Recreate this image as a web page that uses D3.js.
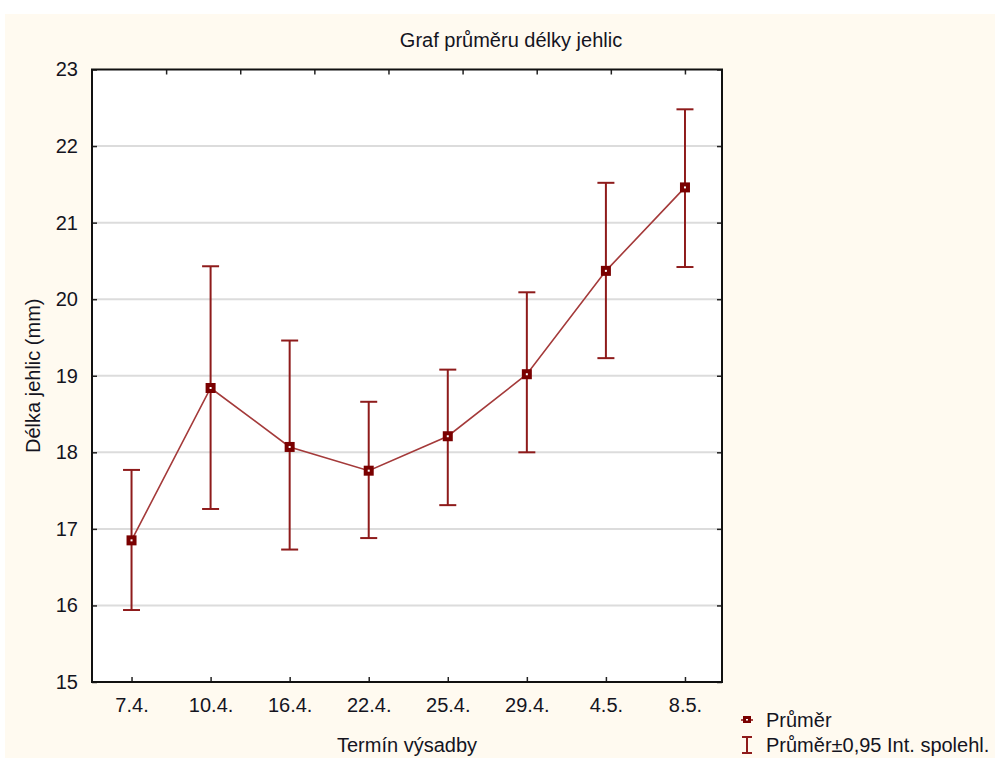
<!DOCTYPE html>
<html><head><meta charset="utf-8">
<script src="https://cdn.jsdelivr.net/npm/d3@7"></script>
<style>body{margin:0;background:#fff}svg{display:block}text{font-family:"Liberation Sans",Arial,sans-serif;fill:#14141e}</style>
</head><body><svg id="c" width="995" height="758"></svg>
<script>
const categories = ["7.4.","10.4.","16.4.","22.4.","25.4.","29.4.","4.5.","8.5."];
const means = [16.85, 18.84, 18.07, 17.76, 18.21, 19.02, 20.37, 21.46];
const lower = [15.94, 17.26, 16.73, 16.88, 17.31, 18.00, 19.23, 20.42];
const upper = [17.77, 20.43, 19.46, 18.66, 19.08, 20.09, 21.52, 22.48];
const yTicks = [15,16,17,18,19,20,21,22,23];
const title = "Graf průměru délky jehlic";
const xTitle = "Termín výsadby";
const yTitle = "Délka jehlic (mm)";
const legendLabels = ["Průměr", "Průměr±0,95 Int. spolehl."];

const svg = d3.select("#c");
const L = 92, R = 722, T = 69.5, B = 682;
const red = "#8e1b1b", markRed = "#7a0000";

svg.append("rect").attr("x",5).attr("y",14).attr("width",990).attr("height",744).attr("fill","#fffaf0");
svg.append("rect").attr("x",L).attr("y",T).attr("width",R-L).attr("height",B-T).attr("fill","#fff");

const x = d3.scalePoint().domain(categories).range([L,R+2.5]).padding(0.5);
const y = d3.scaleLinear().domain([15,23]).range([B,T]);

// gridlines
svg.append("g").selectAll("line").data(yTicks.filter(t=>t>15&&t<23)).join("line")
  .attr("x1",L).attr("x2",R).attr("y1",d=>y(d)).attr("y2",d=>y(d))
  .attr("stroke","#dcdcdc").attr("stroke-width",2);

// axes with inward ticks
const fmt = d=>d;
const gl = svg.append("g").attr("transform",`translate(${L},0)`)
  .call(d3.axisLeft(y).tickValues(yTicks).tickSize(-5).tickPadding(14).tickFormat(fmt));
const gr = svg.append("g").attr("transform",`translate(${R},0)`)
  .call(d3.axisRight(y).tickValues(yTicks).tickSize(-5).tickFormat(""));
const gb = svg.append("g").attr("transform",`translate(0,${B})`)
  .call(d3.axisBottom(x).tickSize(-5).tickPadding(16));
const xTop = d3.scaleLinear().domain([0,8.5]).range([L,R]);
const gt = svg.append("g").attr("transform",`translate(0,${T})`)
  .call(d3.axisTop(xTop).tickValues([1,2,3,4,5,6,7,8]).tickSize(-5).tickFormat(""));
[gl,gr,gb,gt].forEach(g=>{
  g.select(".domain").remove();
  g.selectAll("line").attr("stroke","#222").attr("stroke-width",1.5);
  g.selectAll("text").attr("font-size",20).attr("fill","#14141e").style("font-family","Liberation Sans, Arial, sans-serif");
});
gb.selectAll("text").attr("dy","0.71em");

svg.append("rect").attr("x",L).attr("y",T).attr("width",R-L).attr("height",B-T)
  .attr("fill","none").attr("stroke","#111").attr("stroke-width",2);

const data = categories.map((c,i)=>({c, m:means[i], lo:lower[i], hi:upper[i]}));

// error bars
const eb = svg.append("g").attr("stroke",red).attr("stroke-width",2);
eb.selectAll(".v").data(data).join("line").attr("x1",d=>x(d.c)).attr("x2",d=>x(d.c))
  .attr("y1",d=>y(d.lo)).attr("y2",d=>y(d.hi));
eb.selectAll(".t").data(data).join("line").attr("x1",d=>x(d.c)-8.5).attr("x2",d=>x(d.c)+8.5)
  .attr("y1",d=>y(d.hi)).attr("y2",d=>y(d.hi));
eb.selectAll(".b").data(data).join("line").attr("x1",d=>x(d.c)-8.5).attr("x2",d=>x(d.c)+8.5)
  .attr("y1",d=>y(d.lo)).attr("y2",d=>y(d.lo));

// mean line
svg.append("path").datum(data).attr("fill","none").attr("stroke","#a43a3a").attr("stroke-width",1.6)
  .attr("d",d3.line().x(d=>x(d.c)).y(d=>y(d.m)));

// markers
const mk = svg.append("g");
mk.selectAll("rect").data(data).join("rect").attr("x",d=>x(d.c)-5).attr("y",d=>y(d.m)-5)
  .attr("width",10).attr("height",10).attr("fill",markRed);
mk.selectAll(".dot").data(data).join("rect").attr("x",d=>x(d.c)-1).attr("y",d=>y(d.m)-1)
  .attr("width",2).attr("height",2).attr("fill","#fff");

// titles
svg.append("text").attr("x",511).attr("y",47).attr("text-anchor","middle").attr("font-size",20).text(title);
svg.append("text").attr("x",(L+R)/2).attr("y",752).attr("text-anchor","middle").attr("font-size",20).text(xTitle);
svg.append("text").attr("transform",`translate(40,${(T+B)/2}) rotate(-90)`).attr("text-anchor","middle").attr("font-size",20).text(yTitle);

// legend
const lg = svg.append("g");
lg.append("line").attr("x1",741).attr("x2",753).attr("y1",720).attr("y2",720).attr("stroke",red).attr("stroke-width",1.6);
lg.append("rect").attr("x",743).attr("y",716).attr("width",8).attr("height",7).attr("fill",markRed);
lg.append("rect").attr("x",746).attr("y",719).attr("width",2).attr("height",1.5).attr("fill","#fff");
lg.append("line").attr("x1",747).attr("x2",747).attr("y1",737).attr("y2",753).attr("stroke",red).attr("stroke-width",2);
lg.append("line").attr("x1",742).attr("x2",752).attr("y1",737).attr("y2",737).attr("stroke",red).attr("stroke-width",2);
lg.append("line").attr("x1",742).attr("x2",752).attr("y1",753).attr("y2",753).attr("stroke",red).attr("stroke-width",2);
lg.selectAll("text").data(legendLabels).join("text").attr("x",766).attr("y",(d,i)=>727+i*25)
  .attr("font-size",20).text(d=>d);
</script></body></html>
